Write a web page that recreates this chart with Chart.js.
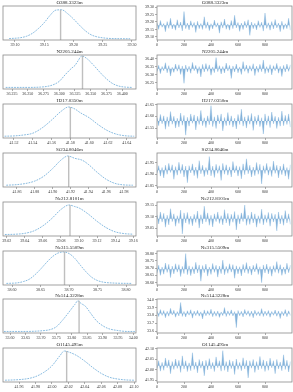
<!DOCTYPE html>
<html>
<head>
<meta charset="utf-8">
<script src="https://cdn.jsdelivr.net/npm/chart.js@4.4.1/dist/chart.umd.min.js"></script>
<style>
  html, body { margin: 0; padding: 0; background: #fff; }
  #fig { position: relative; width: 293px; height: 392px; overflow: hidden; }
  #fig canvas { position: absolute; }
</style>
</head>
<body>
<div id="fig"></div>
<script>
/* ---------- data ---------- */
const titles = ["O388.3323m", "N2205.244m", "H217.0350m", "Si234.8046m",
                "Ne212.8101m", "Ne315.5509m", "Ne514.3228m", "O1145.495m"];

// KDE curves (left column): sample positions and relative density
const kdeX = [
  [39.09,39.10,39.11,39.12,39.13,39.14,39.15,39.16,39.17,39.18,39.19,39.20,39.21,39.22,39.23,39.24,39.25,39.26,39.27,39.28,39.29,39.297],
  [36.215,36.25,36.27,36.28,36.29,36.30,36.31,36.32,36.325,36.33,36.336,36.345,36.355,36.365,36.375,36.385,36.395,36.405,36.415],
  [41.51,41.52,41.53,41.54,41.55,41.56,41.57,41.578,41.585,41.59,41.60,41.61,41.62,41.63,41.64,41.648],
  [41.848,41.86,41.87,41.88,41.89,41.90,41.91,41.917,41.925,41.933,41.94,41.95,41.96,41.97,41.98,41.99],
  [39.018,39.03,39.04,39.05,39.06,39.07,39.08,39.089,39.095,39.10,39.11,39.12,39.13,39.14,39.15,39.16],
  [38.59,38.61,38.62,38.63,38.64,38.65,38.66,38.67,38.68,38.69,38.70,38.71,38.72,38.73,38.74,38.75,38.76,38.78,38.81],
  [33.58,33.65,33.70,33.73,33.75,33.77,33.79,33.81,33.82,33.83,33.845,33.86,33.88,33.90,33.92,33.95,33.98,34.005],
  [41.943,41.96,41.97,41.98,41.99,42.00,42.01,42.015,42.02,42.03,42.04,42.05,42.06,42.07,42.08,42.09,42.10]
];
const kdeY = [
  [0.01,0.02,0.04,0.09,0.19,0.35,0.55,0.80,0.98,0.99,0.86,0.68,0.47,0.28,0.14,0.07,0.035,0.015,0.008,0.005,0.003,0.002],
  [0.01,0.01,0.02,0.04,0.09,0.20,0.42,0.62,0.70,0.85,1.0,0.90,0.70,0.48,0.28,0.13,0.05,0.02,0.01],
  [0.02,0.03,0.06,0.12,0.30,0.56,0.85,1.0,0.93,0.82,0.64,0.40,0.20,0.08,0.03,0.02],
  [0.02,0.04,0.08,0.16,0.32,0.58,0.88,1.0,0.92,0.86,0.72,0.45,0.22,0.08,0.03,0.02],
  [0.01,0.02,0.05,0.13,0.30,0.55,0.85,1.0,0.95,0.90,0.70,0.45,0.24,0.10,0.04,0.02],
  [0.01,0.03,0.07,0.14,0.28,0.46,0.66,0.84,0.96,1.0,0.95,0.80,0.58,0.37,0.20,0.10,0.05,0.02,0.01],
  [0.01,0.01,0.03,0.07,0.16,0.37,0.62,0.88,1.0,0.92,0.82,0.62,0.36,0.20,0.10,0.04,0.01,0.01],
  [0.02,0.04,0.07,0.14,0.28,0.50,0.85,1.0,0.97,0.85,0.66,0.44,0.25,0.12,0.06,0.03,0.02]
];
// vertical reference line position (also the centre of each trace) and its height on each KDE
const refX = [39.178, 36.337, 41.58, 41.918, 39.09, 38.692, 33.824, 42.018];
const refTop = [0.99, 1.0, 1.0, 1.0, 1.0, 1.0, 1.0, 1.0];

// trace samples (right column), one value every traceStep iterations
const traceStep = 12.5;
const traces = [
  [39.195,39.150,39.210,39.165,39.190,39.135,39.203,39.157,39.225,39.153,39.187,39.145,39.215,39.160,39.200,39.140,39.270,39.155,39.193,39.147,39.208,39.163,39.197,39.130,39.205,39.155,39.190,39.150,39.235,39.157,39.201,39.142,39.189,39.153,39.213,39.165,39.195,39.125,39.202,39.159,39.220,39.151,39.187,39.145,39.210,39.155,39.245,39.160,39.197,39.137,39.193,39.149,39.205,39.161,39.215,39.110,39.200,39.155,39.191,39.147,39.209,39.163,39.199,39.139,39.260,39.157,39.195,39.145,39.203,39.153,39.217,39.160,39.193,39.135,39.205,39.150,39.189,39.155,39.225,39.145],
  [36.318,36.358,36.306,36.351,36.324,36.374,36.311,36.356,36.291,36.346,36.314,36.366,36.321,36.362,36.301,36.354,36.246,36.360,36.316,36.352,36.308,36.376,36.324,36.358,36.306,36.350,36.286,36.364,36.316,36.369,36.320,36.361,36.296,36.348,36.312,36.406,36.318,36.356,36.304,36.351,36.310,36.372,36.322,36.358,36.276,36.354,36.316,36.366,36.311,36.348,36.301,36.381,36.320,36.360,36.308,36.356,36.321,36.368,36.294,36.353,36.314,36.364,36.318,36.391,36.306,36.350,36.312,36.362,36.298,36.356,36.324,36.370,36.309,36.352,36.288,36.358,36.316,36.366,36.320,36.361],
  [41.595,41.560,41.608,41.568,41.602,41.545,41.598,41.556,41.620,41.566,41.600,41.550,41.592,41.554,41.614,41.562,41.604,41.520,41.596,41.558,41.610,41.570,41.606,41.542,41.600,41.565,41.625,41.560,41.594,41.552,41.602,41.564,41.645,41.556,41.598,41.548,41.606,41.568,41.610,41.538,41.595,41.560,41.616,41.562,41.602,41.554,41.592,41.546,41.608,41.565,41.630,41.558,41.598,41.550,41.604,41.566,41.612,41.540,41.600,41.564,41.606,41.556,41.594,41.525,41.610,41.562,41.602,41.552,41.618,41.568,41.600,41.548,41.596,41.558,41.622,41.560,41.604,41.565,41.610,41.554],
  [41.904,41.938,41.892,41.930,41.884,41.940,41.900,41.948,41.908,41.942,41.878,41.934,41.896,41.953,41.903,41.944,41.888,41.936,41.863,41.938,41.906,41.946,41.894,41.932,41.882,41.960,41.902,41.940,41.890,41.930,41.898,41.978,41.893,41.936,41.886,41.944,41.904,41.938,41.873,41.948,41.900,41.942,41.896,41.933,41.888,41.956,41.906,41.938,41.892,41.934,41.880,41.946,41.898,41.968,41.902,41.940,41.888,41.932,41.894,41.952,41.900,41.944,41.858,41.938,41.903,41.948,41.896,41.934,41.890,41.958,41.904,41.940,41.884,41.936,41.898,41.946,41.892,41.930,41.878,41.942],
  [39.108,39.068,39.120,39.076,39.114,39.054,39.106,39.064,39.134,39.078,39.112,39.058,39.104,39.070,39.128,39.025,39.116,39.072,39.118,39.066,39.102,39.060,39.110,39.074,39.124,39.050,39.108,39.068,39.145,39.076,39.116,39.062,39.106,39.055,39.112,39.078,39.120,39.070,39.104,39.064,39.130,39.072,39.114,39.060,39.110,39.075,39.122,39.042,39.108,39.068,39.116,39.078,39.150,39.062,39.106,39.066,39.120,39.072,39.112,39.054,39.104,39.070,39.132,39.064,39.108,39.074,39.118,39.058,39.114,39.076,39.110,39.038,39.120,39.068,39.106,39.062,39.126,39.072,39.112,39.066],
  [38.665,38.720,38.650,38.708,38.658,38.735,38.670,38.726,38.635,38.714,38.660,38.730,38.672,38.724,38.642,38.712,38.662,38.800,38.655,38.716,38.648,38.710,38.660,38.740,38.666,38.722,38.610,38.718,38.668,38.728,38.645,38.708,38.656,38.732,38.670,38.720,38.638,38.714,38.662,38.755,38.654,38.712,38.664,38.730,38.672,38.724,38.630,38.716,38.660,38.710,38.646,38.726,38.668,38.738,38.662,38.714,38.652,38.720,38.674,38.732,38.656,38.710,38.600,38.722,38.666,38.728,38.660,38.712,38.644,38.718,38.670,38.745,38.664,38.724,38.650,38.708,38.658,38.734,38.668,38.720],
  [33.855,33.785,33.875,33.800,33.863,33.770,33.853,33.790,33.890,33.805,33.867,33.777,33.849,33.793,33.965,33.787,33.851,33.780,33.860,33.803,33.873,33.765,33.855,33.797,33.865,33.790,33.847,33.755,33.870,33.795,33.861,33.801,33.880,33.783,33.853,33.789,33.857,33.775,33.845,33.797,33.900,33.785,33.859,33.799,33.871,33.793,33.849,33.645,33.863,33.795,33.853,33.781,33.877,33.803,33.861,33.787,33.855,33.770,33.867,33.799,33.849,33.791,33.887,33.785,33.855,33.797,33.863,33.777,33.851,33.801,33.869,33.789,33.857,33.760,33.853,33.795,33.875,33.783,33.859,33.799],
  [42.004,42.042,41.992,42.034,41.996,42.055,42.008,42.046,41.980,42.038,42.000,42.050,42.005,42.044,41.986,42.065,42.002,42.042,41.990,42.032,41.994,42.080,42.000,42.036,41.984,42.048,42.006,42.040,41.970,42.044,41.998,42.052,42.002,42.034,41.990,42.060,42.008,42.042,41.992,42.090,41.996,42.038,41.988,42.046,42.004,42.040,41.976,42.050,42.000,42.034,41.994,42.056,42.002,42.044,41.960,42.042,42.006,42.048,41.986,42.038,41.998,42.062,42.004,42.046,41.990,42.040,41.996,42.054,42.008,42.042,41.980,42.048,42.002,42.036,41.994,42.070,42.000,42.044,41.988,42.038]
];

// axis ranges / tick settings
const kdeRange = [[39.0795,39.307],[36.2107,36.422],[41.5083,41.6499],[41.8443,41.9935],
                  [39.0159,39.163],[38.584,38.8175],[33.577,34.0088],[41.9405,42.1024]];
const kdeStep = [0.05, 0.025, 0.02, 0.02, 0.02, 0.05, 0.05, 0.02];
const kdeDec  = [2, 3, 2, 2, 2, 2, 2, 2];
const kdeTop  = [1.12, 1.03, 1.10, 1.10, 1.10, 1.03, 1.06, 1.10];
const traceRange = [[39.0795,39.307],[36.2107,36.422],[41.508,41.652],[41.8443,41.9935],
                    [39.0159,39.163],[38.584,38.8175],[33.577,34.0088],[41.9405,42.1024]];
const traceStepY = [0.05, 0.05, 0.05, 0.05, 0.05, 0.05, 0.1, 0.05];
const traceDec   = [2, 2, 2, 2, 2, 2, 1, 2];
const iterTicks = 200;

/* ---------- drawing ---------- */
const FONT = "'Liberation Serif', 'DejaVu Serif', serif";
const fig = document.getElementById("fig");
const rowTop = [0, 49, 98, 147, 196, 245, 293, 342];

// box around the plotting area
const frame = {
  id: "frame",
  afterDraw(chart) {
    const a = chart.chartArea, ctx = chart.ctx;
    ctx.save();
    ctx.strokeStyle = "#8a8a8a";
    ctx.lineWidth = 0.8;
    ctx.strokeRect(a.left, a.top, a.right - a.left, a.bottom - a.top);
    ctx.restore();
  }
};

function makeCanvas(left, top, w, h) {
  const cv = document.createElement("canvas");
  cv.width = w; cv.height = h;
  cv.style.left = left + "px"; cv.style.top = top + "px";
  cv.style.width = w + "px"; cv.style.height = h + "px";
  fig.appendChild(cv);
  return cv;
}

function tickGrid() {
  return { display: true, drawOnChartArea: false, drawTicks: true, tickLength: 2, color: "#777", lineWidth: 0.6 };
}
function tickFont() { return { family: FONT, size: 4 }; }

function titleOpts(i) {
  return { display: true, text: titles[i], color: "#222",
           font: { family: FONT, size: 5, weight: "normal", lineHeight: 1 },
           padding: { top: 0, bottom: 1 } };
}

for (let i = 0; i < titles.length; i++) {
  // ----- left: density -----
  const kdePts = kdeX[i].map((x, j) => ({ x: x, y: kdeY[i][j] }));
  new Chart(makeCanvas(0, rowTop[i], 140, 49), {
    type: "line",
    data: { datasets: [
      { data: [{ x: refX[i], y: -1 }, { x: refX[i], y: refTop[i] }],
        borderColor: "rgba(175,175,175,0.8)", borderWidth: 1.4, pointRadius: 0 },
      { data: kdePts, borderColor: "#6aaad8", borderWidth: 0.8, borderDash: [1.8, 1],
        pointRadius: 0, cubicInterpolationMode: "monotone" }
    ]},
    options: {
      responsive: false, animation: false, devicePixelRatio: 1,
      layout: { padding: { left: 3, right: 4, top: 0, bottom: 0 } },
      plugins: { legend: { display: false }, tooltip: { enabled: false }, title: titleOpts(i) },
      scales: {
        x: { type: "linear", min: kdeRange[i][0], max: kdeRange[i][1],
             grid: tickGrid(), border: { display: false },
             afterFit: s => { s.height = 9; },
             ticks: { stepSize: kdeStep[i], includeBounds: false, autoSkip: false, maxRotation: 0,
                      padding: 1, font: tickFont(), color: "#333",
                      callback: v => Number(v).toFixed(kdeDec[i]) } },
        y: { display: false, min: -0.04, max: kdeTop[i] }
      }
    },
    plugins: [frame]
  });

  // ----- right: trace -----
  const trPts = traces[i].map((v, j) => ({ x: j * traceStep, y: v }));
  new Chart(makeCanvas(138, rowTop[i], 155, 49), {
    type: "line",
    data: { datasets: [
      { data: trPts, borderColor: "rgba(80,150,205,0.35)", borderWidth: 0.7, pointRadius: 0,
        fill: { value: refX[i] }, backgroundColor: "rgba(40,120,190,0.55)" }
    ]},
    options: {
      responsive: false, animation: false, devicePixelRatio: 1,
      layout: { padding: { left: 0, right: 1, top: 0, bottom: 0 } },
      plugins: { legend: { display: false }, tooltip: { enabled: false }, title: titleOpts(i) },
      scales: {
        x: { type: "linear", min: 0, max: 1000,
             grid: tickGrid(), border: { display: false },
             afterFit: s => { s.height = 9; },
             ticks: { stepSize: iterTicks, autoSkip: false, maxRotation: 0, padding: 1,
                      font: tickFont(), color: "#333",
                      callback: v => (v >= 1000 ? null : String(v)) } },
        y: { min: traceRange[i][0], max: traceRange[i][1],
             grid: tickGrid(), border: { display: false },
             afterFit: s => { s.width = 19; },
             ticks: { stepSize: traceStepY[i], includeBounds: false, autoSkip: false, padding: 1,
                      font: tickFont(), color: "#333",
                      callback: v => Number(v).toFixed(traceDec[i]) } }
      }
    },
    plugins: [frame]
  });
}
</script>
</body>
</html>
